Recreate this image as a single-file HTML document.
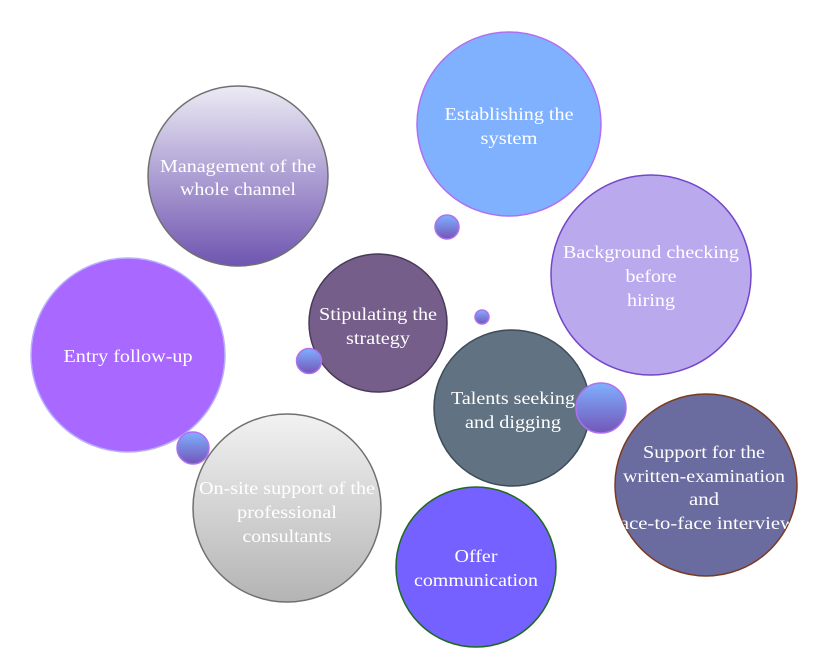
<!DOCTYPE html>
<html><head><meta charset="utf-8"><style>
html,body{margin:0;padding:0;background:#fff;width:831px;height:665px;overflow:hidden}
svg text{font-family:"Liberation Serif","DejaVu Serif","Times New Roman",serif;font-size:18px;fill:#fff;text-anchor:middle}
</style></head><body>
<svg width="831" height="665" viewBox="0 0 831 665" xmlns="http://www.w3.org/2000/svg">
<defs>
<linearGradient id="gm" x1="0" y1="0" x2="0" y2="1"><stop offset="0" stop-color="#ecebf4"/><stop offset="0.5" stop-color="#ad9fd3"/><stop offset="1" stop-color="#6f55b0"/></linearGradient>
<linearGradient id="gs" x1="0" y1="0" x2="0" y2="1"><stop offset="0" stop-color="#f2f2f2"/><stop offset="1" stop-color="#b4b4b4"/></linearGradient>
<linearGradient id="gb" x1="0" y1="0" x2="0" y2="1"><stop offset="0" stop-color="#7fb0ff"/><stop offset="1" stop-color="#7356b8"/></linearGradient>
<clipPath id="cs"><circle cx="706" cy="485" r="91"/></clipPath>
</defs>
<circle cx="509" cy="124" r="92" fill="#80b1ff" stroke="#b070f0" stroke-width="1.5"/>
<circle cx="238" cy="176" r="90" fill="url(#gm)" stroke="#707070" stroke-width="1.5"/>
<circle cx="651" cy="275" r="100" fill="#bba9ee" stroke="#7446c8" stroke-width="1.5"/>
<circle cx="378" cy="323" r="69" fill="#765e8a" stroke="#4a3a5a" stroke-width="1.5"/>
<circle cx="128" cy="355" r="97" fill="#a968ff" stroke="#b8b0ff" stroke-width="1.5"/>
<circle cx="512" cy="408" r="78" fill="#617282" stroke="#3e4b58" stroke-width="1.5"/>
<circle cx="706" cy="485" r="91" fill="#6a6b9e" stroke="#7a3a20" stroke-width="1.5"/>
<circle cx="287" cy="508" r="94" fill="url(#gs)" stroke="#707070" stroke-width="1.5"/>
<circle cx="476" cy="567" r="80" fill="#7461ff" stroke="#1e6a1e" stroke-width="1.5"/>
<circle cx="447" cy="227" r="12" fill="url(#gb)" stroke="#b070f0" stroke-width="1.5"/>
<circle cx="482" cy="317" r="7" fill="url(#gb)" stroke="#b070f0" stroke-width="1.5"/>
<circle cx="309" cy="361" r="12.5" fill="url(#gb)" stroke="#b070f0" stroke-width="1.5"/>
<circle cx="193" cy="448" r="16" fill="url(#gb)" stroke="#b070f0" stroke-width="1.5"/>
<circle cx="601" cy="408" r="25" fill="url(#gb)" stroke="#b070f0" stroke-width="1.5"/>
<g lengthAdjust="spacingAndGlyphs">
<text x="509" y="120" textLength="129" lengthAdjust="spacingAndGlyphs">Establishing the</text><text x="509" y="144" textLength="57" lengthAdjust="spacingAndGlyphs">system</text>
<text x="238" y="172" textLength="156" lengthAdjust="spacingAndGlyphs">Management of the</text><text x="238" y="195" textLength="116" lengthAdjust="spacingAndGlyphs">whole channel</text>
<text x="651" y="258" textLength="176" lengthAdjust="spacingAndGlyphs">Background checking</text><text x="651" y="282" textLength="51" lengthAdjust="spacingAndGlyphs">before</text><text x="651" y="306" textLength="48" lengthAdjust="spacingAndGlyphs">hiring</text>
<text x="378" y="320" textLength="118" lengthAdjust="spacingAndGlyphs">Stipulating the</text><text x="378" y="344" textLength="64" lengthAdjust="spacingAndGlyphs">strategy</text>
<text x="128" y="362" textLength="129" lengthAdjust="spacingAndGlyphs">Entry follow-up</text>
<text x="513" y="404" textLength="124" lengthAdjust="spacingAndGlyphs">Talents seeking</text><text x="513" y="428" textLength="96" lengthAdjust="spacingAndGlyphs">and digging</text>
<g clip-path="url(#cs)">
<text x="704" y="458" textLength="122" lengthAdjust="spacingAndGlyphs">Support for the</text><text x="704" y="482" textLength="162" lengthAdjust="spacingAndGlyphs">written-examination</text><text x="704" y="505" textLength="30" lengthAdjust="spacingAndGlyphs">and</text><text x="704" y="529" textLength="182" lengthAdjust="spacingAndGlyphs">face-to-face interview</text>
</g>
<text x="287" y="494" textLength="176" lengthAdjust="spacingAndGlyphs">On-site support of the</text><text x="287" y="518" textLength="100" lengthAdjust="spacingAndGlyphs">professional</text><text x="287" y="542" textLength="89" lengthAdjust="spacingAndGlyphs">consultants</text>
<text x="476" y="562" textLength="43" lengthAdjust="spacingAndGlyphs">Offer</text><text x="476" y="586" textLength="124" lengthAdjust="spacingAndGlyphs">communication</text>
</g>
</svg>
</body></html>
